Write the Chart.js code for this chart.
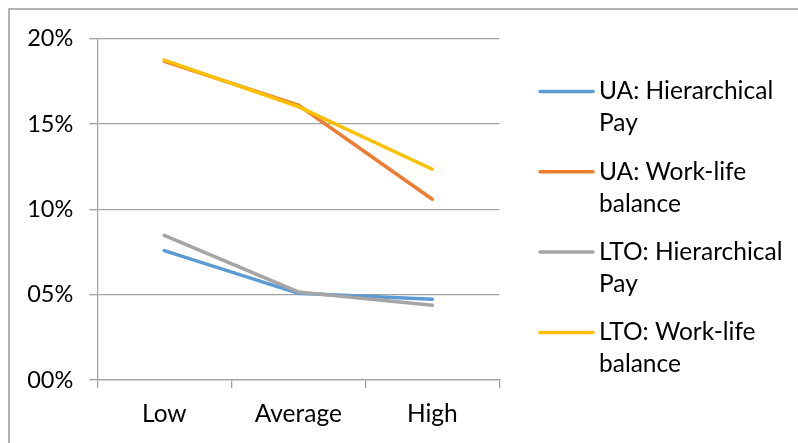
<!DOCTYPE html>
<html>
<head>
<meta charset="utf-8">
<script src="https://cdn.jsdelivr.net/npm/chart.js@4.4.1/dist/chart.umd.min.js"></script>
<style>
  html, body { margin: 0; padding: 0; background: #ffffff; }
  #wrap { width: 798px; height: 443px; }
</style>
</head>
<body>
<div id="wrap"><canvas id="chart" width="798" height="443"></canvas></div>
<script>
// Share of respondents (%) by level of the cultural dimension
const categories = ['Low', 'Average', 'High'];

const uaHierarchicalPay = [7.58, 5.08, 4.73];
const uaWorkLifeBalance = [18.67, 16.11, 10.59];
const ltoHierarchicalPay = [8.48, 5.16, 4.38];
const ltoWorkLifeBalance = [18.75, 16.02, 12.35];

const seriesNames = [
  ['UA: Hierarchical', 'Pay'],
  ['UA: Work-life', 'balance'],
  ['LTO: Hierarchical', 'Pay'],
  ['LTO: Work-life', 'balance']
];

const yTickLabels = ['00%', '05%', '10%', '15%', '20%'];

const FONT = 'Lato, "Open Sans", sans-serif';
const GRID = '#a3a3a3';

// Frame lines along the top and left of the picture
const framePlugin = {
  id: 'frame',
  beforeDraw(chart) {
    const ctx = chart.ctx;
    ctx.save();
    ctx.strokeStyle = '#999999';
    ctx.lineWidth = 1.5;
    ctx.beginPath();
    ctx.moveTo(chart.width, 9);
    ctx.lineTo(9, 9);
    ctx.lineTo(9, chart.height);
    ctx.stroke();
    ctx.restore();
  }
};

// Legend on the right with wrapped, two-line labels
const sideLegend = {
  id: 'sideLegend',
  afterDraw(chart, args, opts) {
    const ctx = chart.ctx;
    ctx.save();
    ctx.font = opts.fontSize + 'px ' + FONT;
    ctx.textBaseline = 'middle';
    ctx.textAlign = 'left';
    chart.data.datasets.forEach((ds, i) => {
      const y = opts.top + i * opts.itemGap;
      ctx.strokeStyle = ds.borderColor;
      ctx.lineWidth = 3.5;
      ctx.lineCap = 'round';
      ctx.beginPath();
      ctx.moveTo(opts.x, y);
      ctx.lineTo(opts.x + opts.lineLen, y);
      ctx.stroke();
      ctx.fillStyle = '#000000';
      seriesNames[i].forEach((line, j) => {
        ctx.fillText(line, opts.x + opts.lineLen + opts.gap, y + j * opts.lineHeight);
      });
    });
    ctx.restore();
  }
};

const colors = ['#5B9BD5', '#ED7D31', '#A5A5A5', '#FFC000'];
const seriesValues = [uaHierarchicalPay, uaWorkLifeBalance, ltoHierarchicalPay, ltoWorkLifeBalance];

new Chart(document.getElementById('chart'), {
  type: 'line',
  data: {
    labels: categories,
    datasets: seriesValues.map((vals, i) => ({
      label: seriesNames[i].join(' '),
      data: vals,
      borderColor: colors[i],
      backgroundColor: colors[i],
      borderWidth: 3.5,
      pointRadius: 0,
      tension: 0,
      fill: false,
      borderCapStyle: 'round',
      order: 4 - i
    }))
  },
  options: {
    responsive: false,
    animation: false,
    events: [],
    layout: { padding: { left: 0, top: 38.7, right: 298.7, bottom: 0 } },
    plugins: {
      legend: { display: false },
      tooltip: { enabled: false },
      sideLegend: { x: 540, top: 91.5, itemGap: 80.3, lineLen: 53, gap: 6, lineHeight: 32, fontSize: 24.5 }
    },
    scales: {
      x: {
        offset: true,
        afterFit(scale) { scale.height = 63; },
        grid: {
          offset: true,
          drawOnChartArea: false,
          drawTicks: true,
          tickLength: 8,
          color: GRID,
          lineWidth: 1.3
        },
        border: { display: true, color: GRID, width: 1.3 },
        ticks: {
          color: '#000000',
          font: { family: FONT, size: 24.5 },
          padding: 11,
          maxRotation: 0
        }
      },
      y: {
        min: 0,
        max: 20,
        afterFit(scale) { scale.width = 97.3; },
        grid: {
          color: GRID,
          lineWidth: 1.3,
          tickLength: 8,
          drawTicks: true
        },
        border: { display: true, color: GRID, width: 1.3 },
        ticks: {
          stepSize: 5,
          color: '#000000',
          font: { family: FONT, size: 23.5 },
          padding: 16,
          callback: (value, index) => yTickLabels[index]
        }
      }
    }
  },
  plugins: [framePlugin, sideLegend]
});
</script>
</body>
</html>
